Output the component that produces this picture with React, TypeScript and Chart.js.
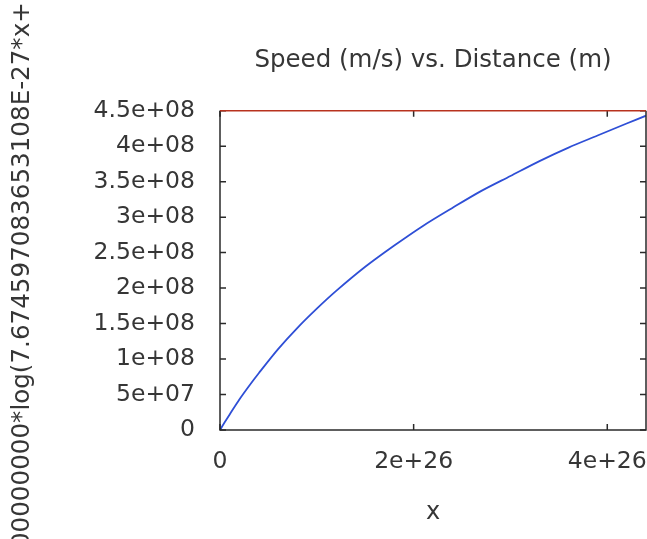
import React, { useEffect, useRef } from "react";
import { Chart, registerables } from "chart.js";

Chart.register(...registerables);

// Data
const distance = [0, 0.5e25, 1e25, 2e25, 3e25, 4e25, 6e25, 8e25, 1e26, 1.2e26, 1.5e26, 1.8e26, 2.1e26, 2.4e26, 2.7e26, 3.0e26, 3.3e26, 3.6e26, 3.9e26, 4.2e26, 4.4e26];
const speed = [0, 1.13e7, 2.2e7, 4.3e7, 6.2e7, 8.0e7, 1.14e8, 1.44e8, 1.71e8, 1.96e8, 2.3e8, 2.6e8, 2.88e8, 3.13e8, 3.37e8, 3.58e8, 3.79e8, 3.98e8, 4.15e8, 4.32e8, 4.43e8];

const xTickValues = [0, 2e26, 4e26];
const xTickLabels = ["0", "2e+26", "4e+26"];
const yTickValues = [0, 5e7, 1e8, 1.5e8, 2e8, 2.5e8, 3e8, 3.5e8, 4e8, 4.5e8];
const yTickLabels = ["0", "5e+07", "1e+08", "1.5e+08", "2e+08", "2.5e+08", "3e+08", "3.5e+08", "4e+08", "4.5e+08"];

const xMin = 0;
const xMax = 4.4e26;
const yMin = 0;
const yMax = 4.5e8;

const titleText = "Speed (m/s) vs. Distance (m)";
const xTitle = "x";
const yTitle = "300000000*log(7.674597083653108E-27*x+1)";

const FONT = "'DejaVu Sans', sans-serif";
const TEXT = "#363636";

const framePlugin = {
  id: "frame",
  afterDatasetsDraw(chart: any) {
    const { ctx, chartArea } = chart;
    const { left, right, top, bottom } = chartArea;
    const xs = chart.scales.x;
    const ys = chart.scales.y;
    ctx.save();
    ctx.lineWidth = 1.5;
    ctx.strokeStyle = "#2a2a2a";
    const len = 6;
    ctx.beginPath();
    xTickValues.forEach((v) => {
      const px = xs.getPixelForValue(v);
      ctx.moveTo(px, bottom);
      ctx.lineTo(px, bottom - len);
      ctx.moveTo(px, top);
      ctx.lineTo(px, top + len);
    });
    yTickValues.forEach((v) => {
      const py = ys.getPixelForValue(v);
      ctx.moveTo(left, py);
      ctx.lineTo(left + len, py);
      ctx.moveTo(right, py);
      ctx.lineTo(right - len, py);
    });
    ctx.stroke();
    // left, bottom, right borders
    ctx.beginPath();
    ctx.moveTo(left, top);
    ctx.lineTo(left, bottom);
    ctx.lineTo(right, bottom);
    ctx.lineTo(right, top);
    ctx.stroke();
    // top border (red)
    ctx.strokeStyle = "#b8321e";
    ctx.beginPath();
    ctx.moveTo(left, top);
    ctx.lineTo(right, top);
    ctx.stroke();
    ctx.restore();
  },
  afterDraw(chart: any) {
    const { ctx, chartArea } = chart;
    ctx.save();
    ctx.font = `24.6px ${FONT}`;
    ctx.fillStyle = TEXT;
    ctx.textAlign = "center";
    ctx.textBaseline = "middle";
    ctx.translate(23, (chartArea.top + chartArea.bottom) / 2);
    ctx.rotate(-Math.PI / 2);
    ctx.fillText(yTitle, 0, 0);
    ctx.restore();
  },
};

export default function App() {
  const ref = useRef<HTMLCanvasElement>(null);
  useEffect(() => {
    if (!ref.current) return;
    const chart = new Chart(ref.current, {
      type: "line",
      data: {
        datasets: [
          {
            data: distance.map((d, i) => ({ x: d, y: speed[i] })),
            borderColor: "#2f4fd6",
            borderWidth: 1.8,
            pointRadius: 0,
            fill: false,
            tension: 0.3,
          },
        ],
      },
      plugins: [framePlugin],
      options: {
        responsive: false,
        animation: false,
        layout: { padding: { right: 1 } },
        plugins: {
          legend: { display: false },
          tooltip: { enabled: false },
          title: {
            display: true,
            text: titleText,
            fullSize: false,
            color: TEXT,
            font: { family: FONT, size: 24.5, weight: "normal" },
            padding: { top: 46.3, bottom: 35 },
          },
        },
        scales: {
          x: {
            type: "linear",
            min: xMin,
            max: xMax,
            grid: { display: false, drawTicks: false },
            border: { display: false },
            afterFit: (s: any) => {
              s.height = 109;
              s.paddingLeft = 0;
              s.paddingRight = 0;
            },
            afterBuildTicks: (s: any) => {
              s.ticks = xTickValues.map((v) => ({ value: v }));
            },
            ticks: {
              padding: 18,
              color: TEXT,
              font: { family: FONT, size: 23.5 },
              maxRotation: 0,
              autoSkip: false,
              callback: (v: any) => {
                const i = xTickValues.indexOf(Number(v));
                return i >= 0 ? xTickLabels[i] : "";
              },
            },
            title: {
              display: true,
              text: xTitle,
              color: TEXT,
              font: { family: FONT, size: 24 },
              padding: { top: 0, bottom: 12 },
            },
          },
          y: {
            type: "linear",
            min: yMin,
            max: yMax,
            grid: { display: false, drawTicks: false },
            border: { display: false },
            afterFit: (s: any) => {
              s.width = 220;
              s.paddingTop = 0;
              s.paddingBottom = 0;
            },
            afterBuildTicks: (s: any) => {
              s.ticks = yTickValues.map((v) => ({ value: v }));
            },
            ticks: {
              padding: 25,
              color: TEXT,
              font: { family: FONT, size: 23.5 },
              autoSkip: false,
              callback: (v: any) => {
                const i = yTickValues.indexOf(Number(v));
                return i >= 0 ? yTickLabels[i] : "";
              },
            },
          },
        },
      },
    });
    return () => chart.destroy();
  }, []);
  return (
    <div style={{ position: "fixed", left: 0, top: 0, width: 647, height: 539, background: "#fff" }}>
      <canvas ref={ref} width={647} height={539} style={{ width: 647, height: 539, display: "block" }} />
    </div>
  );
}
